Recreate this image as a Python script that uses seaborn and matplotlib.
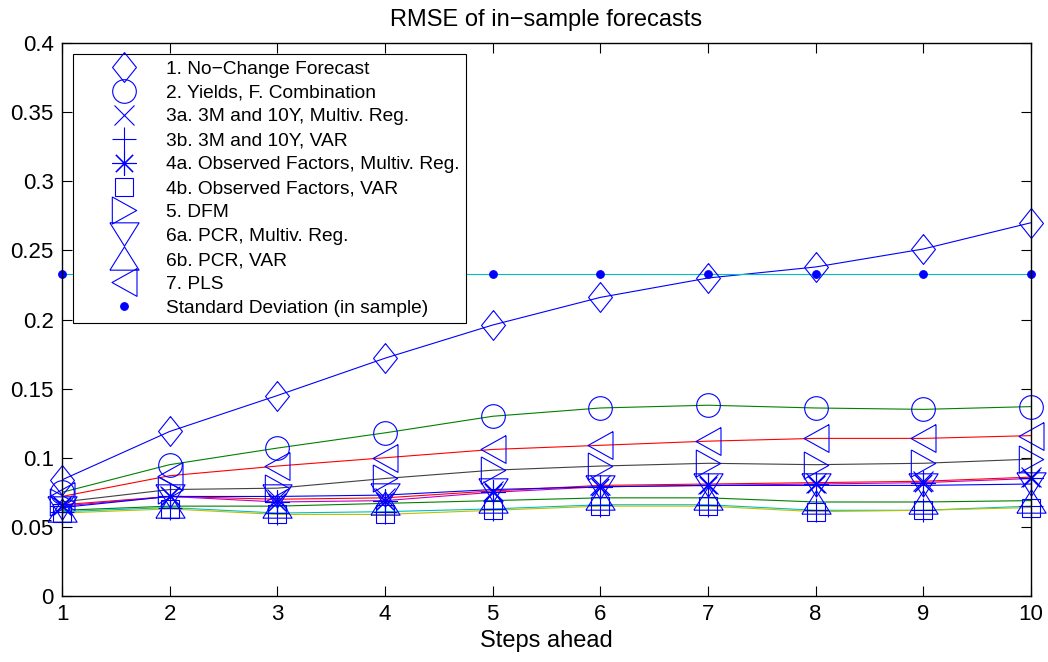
import matplotlib
matplotlib.use("Agg")
import matplotlib.pyplot as plt
from matplotlib.lines import Line2D
import numpy as np
import pandas as pd
import seaborn as sns

# ---- data -------------------------------------------------------------
steps = [1, 2, 3, 4, 5, 6, 7, 8, 9, 10]

models = [
    "1. No\u2212Change Forecast",
    "2. Yields, F. Combination",
    "3a. 3M and 10Y, Multiv. Reg.",
    "3b. 3M and 10Y, VAR",
    "4a. Observed Factors, Multiv. Reg.",
    "4b. Observed Factors, VAR",
    "5. DFM",
    "6a. PCR, Multiv. Reg.",
    "6b. PCR, VAR",
    "7. PLS",
    "Standard Deviation (in sample)",
]

no_change = [0.084, 0.119, 0.145, 0.172, 0.196, 0.216, 0.230, 0.238, 0.251, 0.270]
yields_comb = [0.075, 0.095, 0.107, 0.118, 0.130, 0.136, 0.138, 0.136, 0.135, 0.137]
yc_multreg = [0.066, 0.072, 0.070, 0.071, 0.076, 0.080, 0.081, 0.082, 0.083, 0.086]
yc_var = [0.061, 0.064, 0.060, 0.061, 0.063, 0.066, 0.066, 0.062, 0.062, 0.065]
obs_multreg = [0.065, 0.072, 0.068, 0.069, 0.075, 0.079, 0.080, 0.081, 0.082, 0.085]
obs_var = [0.060, 0.063, 0.059, 0.059, 0.062, 0.065, 0.065, 0.061, 0.062, 0.064]
dfm = [0.068, 0.077, 0.078, 0.085, 0.091, 0.094, 0.096, 0.095, 0.096, 0.099]
pcr_multreg = [0.064, 0.072, 0.072, 0.073, 0.077, 0.079, 0.080, 0.080, 0.080, 0.081]
pcr_var = [0.062, 0.065, 0.065, 0.067, 0.069, 0.071, 0.071, 0.068, 0.068, 0.069]
pls = [0.072, 0.087, 0.094, 0.100, 0.106, 0.109, 0.112, 0.114, 0.114, 0.116]
std_in_sample = [0.233] * 10

series = [no_change, yields_comb, yc_multreg, yc_var, obs_multreg, obs_var,
          dfm, pcr_multreg, pcr_var, pls, std_in_sample]

y_ticks = [0, 0.05, 0.1, 0.15, 0.2, 0.25, 0.3, 0.35, 0.4]
y_tick_labels = ["0", "0.05", "0.1", "0.15", "0.2", "0.25", "0.3", "0.35", "0.4"]
x_tick_labels = [str(s) for s in steps]

# ---- styling ----------------------------------------------------------
plt.rcParams["font.family"] = ["Liberation Sans", "DejaVu Sans"]
plt.rcParams["axes.linewidth"] = 1.0

# MATLAB-like colour order for the lines
c_b, c_g, c_r = (0, 0, 1), (0, 0.5, 0), (1, 0, 0)
c_c, c_m, c_y, c_k = (0, 0.75, 0.75), (0.75, 0, 0.75), (0.75, 0.75, 0), (0.25, 0.25, 0.25)
line_colors = [c_b, c_g, c_r, c_c, c_m, c_y, c_k, c_b, c_g, c_r, c_c]

mk_blue = (0, 0, 1)
diamond = [(0, 1), (0.8, 0), (0, -1), (-0.8, 0), (0, 1)]
tri_right = [(-0.9, 1), (0.9, 0), (-0.9, -1), (-0.9, 1)]
tri_left = [(0.9, 1), (-0.9, 0), (0.9, -1), (0.9, 1)]
tri_down = [(-1, 0.8), (1, 0.8), (0, -0.8), (-1, 0.8)]
tri_up = [(-1, -0.8), (1, -0.8), (0, 0.8), (-1, -0.8)]

# (marker, size in points, filled)
marker_styles = [
    (diamond, 21.5, False),
    ("o", 17.0, False),
    ("x", 14.0, False),
    ("+", 17.5, False),
    ((8, 2, 0), 17.5, False),
    ("s", 13.0, False),
    (tri_right, 19.5, False),
    (tri_down, 21.0, False),
    (tri_up, 21.0, False),
    (tri_left, 20.0, False),
    ("o", 5.5, True),
]

df = pd.DataFrame({
    "step": np.tile(steps, len(models)),
    "rmse": np.concatenate([np.asarray(s, dtype=float) for s in series]),
    "model": np.repeat(models, len(steps)),
})

fig = plt.figure(figsize=(10.48, 6.62), dpi=100)
ax = fig.add_axes([62 / 1048, 1 - 596 / 662, 969 / 1048, 553 / 662])

# connecting lines
sns.lineplot(data=df, x="step", y="rmse", hue="model", hue_order=models,
             palette=line_colors, legend=False, linewidth=0.8, ax=ax,
             estimator=None, sort=False)

# blue markers on top of the lines
handles = []
for name, vals, (mk, ms, filled) in zip(models, series, marker_styles):
    face = mk_blue if filled else "none"
    sns.lineplot(x=steps, y=vals, ax=ax, linestyle="none", marker=mk,
                 markersize=ms, markeredgecolor=mk_blue, markerfacecolor=face,
                 markeredgewidth=0.8, color=mk_blue, clip_on=False,
                 estimator=None, sort=False)
    handles.append(Line2D([], [], linestyle="none", marker=mk, markersize=ms,
                          color=mk_blue, markeredgecolor=mk_blue,
                          markerfacecolor=face, markeredgewidth=0.8,
                          label=name))

ax.set_xlim(1, 10)
ax.set_ylim(0, 0.4)
ax.set_xticks(steps)
ax.set_xticklabels(x_tick_labels)
ax.set_yticks(y_ticks)
ax.set_yticklabels(y_tick_labels)
ax.tick_params(direction="in", length=7, width=0.8, top=True, right=True,
               labelsize=16, pad=6, colors="black")
for sp in ax.spines.values():
    sp.set_visible(True)
    sp.set_color("black")

ax.set_xlabel("Steps ahead", fontsize=17, labelpad=3)
ax.set_ylabel("")
ax.set_title("RMSE of in\u2212sample forecasts", fontsize=17, pad=12)

leg = ax.legend(handles=handles, loc="upper left",
                bbox_to_anchor=(11 / 969, 1 - 11 / 553),
                borderaxespad=0, fontsize=13.8, frameon=True, fancybox=False,
                framealpha=1, edgecolor="black", borderpad=0.32,
                labelspacing=0.34, handlelength=4.7, handletextpad=-0.15,
                numpoints=1)
leg.get_frame().set_linewidth(0.8)

fig.savefig("out.png", dpi=100)
